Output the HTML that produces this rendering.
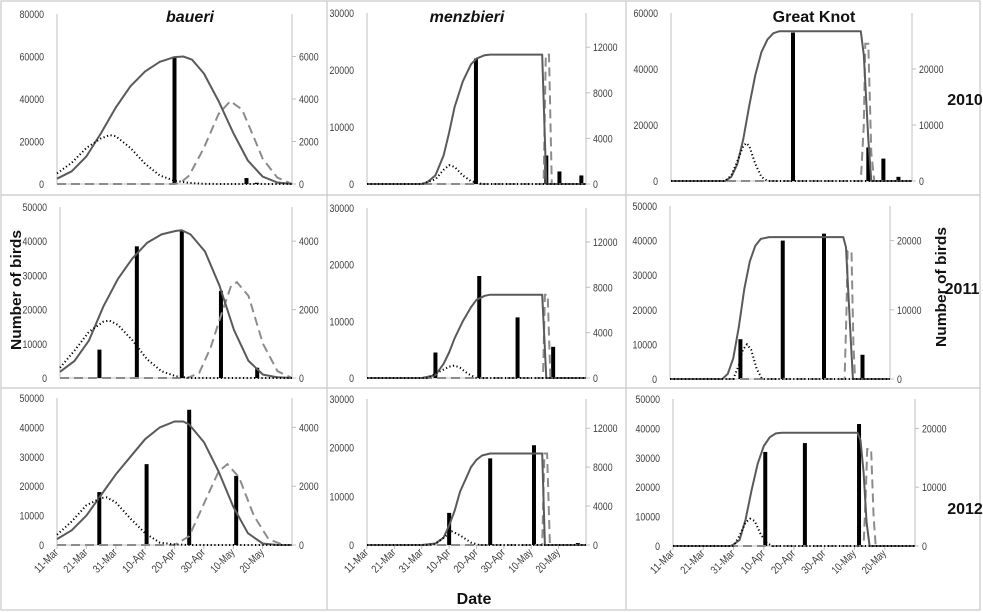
<!DOCTYPE html>
<html><head><meta charset="utf-8">
<style>
html,body{margin:0;padding:0;background:#fff;}
svg{display:block;font-family:"Liberation Sans",sans-serif;}
</style></head>
<body>
<svg id="chart" width="983" height="613" viewBox="0 0 983 613" xmlns="http://www.w3.org/2000/svg">
<g id="frame" stroke="#c8c8c8" stroke-width="1.2" fill="none">
<rect x="1" y="1" width="979" height="609"/>
<line x1="327" y1="1" x2="327" y2="610"/>
<line x1="626" y1="1" x2="626" y2="610"/>
<line x1="1" y1="195" x2="980" y2="195"/>
<line x1="1" y1="388" x2="980" y2="388"/>
</g>
<g id="panels"></g>
<text x="190" y="22" text-anchor="middle" font-size="16" font-weight="bold" font-style="italic" fill="#111">baueri</text>
<text x="467" y="22" text-anchor="middle" font-size="16" font-weight="bold" font-style="italic" fill="#111">menzbieri</text>
<text x="814" y="22" text-anchor="middle" font-size="16" font-weight="bold" fill="#111">Great Knot</text>
<text x="965" y="105" text-anchor="middle" font-size="16" font-weight="bold" fill="#111">2010</text>
<text x="962" y="294" text-anchor="middle" font-size="16" font-weight="bold" fill="#111">2011</text>
<text x="965" y="514" text-anchor="middle" font-size="16" font-weight="bold" fill="#111">2012</text>
<text transform="translate(21,290) rotate(-90)" text-anchor="middle" font-size="15" font-weight="bold" fill="#111" textLength="120" lengthAdjust="spacingAndGlyphs">Number of birds</text>
<text transform="translate(946,287) rotate(-90)" text-anchor="middle" font-size="15" font-weight="bold" fill="#111" textLength="120" lengthAdjust="spacingAndGlyphs">Number of birds</text>
<text x="474" y="604" text-anchor="middle" font-size="16" font-weight="bold" fill="#111">Date</text>
</svg>
<script>
// x categories / tick labels (day 0 = 11-Mar)
const xTickLabels = ["11-Mar","21-Mar","31-Mar","10-Apr","20-Apr","30-Apr","10-May","20-May"];
const xTickDays = [0,10,20,30,40,50,60,70];

// ---- baueri 2010 ----
const baueri2010_solid = [[0,2500],[5,6000],[10,13000],[15,24000],[20,36000],[25,46000],[30,53000],[35,57500],[40,59700],[43,60000],[46,58500],[50,52000],[55,39000],[60,24000],[65,11000],[70,3500],[75,700],[80,0]];
const baueri2010_dotted = [[0,5000],[5,10000],[10,17000],[15,21500],[18,23000],[20,22500],[25,17000],[30,9500],[35,4000],[40,1500],[45,500],[50,100],[55,0],[80,0]];
const baueri2010_dashed = [[0,0],[40,0],[42,500],[45,4000],[50,17000],[55,33000],[59,39000],[63,35000],[67,22000],[70,12000],[75,3000],[80,0]];
const baueri2010_barDays = [40,64.5,68];
const baueri2010_barVals = [60000,2800,600];
// ---- menzbieri 2010 ----
const menz2010_solid = [[0,0],[20,0],[22,300],[25,1500],[28,5000],[30,9000],[32,13500],[35,18000],[38,21000],[40,22000],[43,22600],[45,22700],[64,22700],[65.5,0],[80,0]];
const menz2010_dotted = [[0,0],[20,0],[25,800],[28,2500],[30,3300],[32,3000],[35,1500],[38,500],[42,0],[80,0]];
const menz2010_dashed = [[0,0],[64.5,0],[65.3,22700],[66.5,22700],[67.5,0],[80,0]];
const menz2010_barDays = [39.8,65.5,70.3,78.3];
const menz2010_barVals = [22000,5000,2200,1500];
// ---- great knot 2010 ----
const gk2010_solid = [[0,0],[18,0],[20,1500],[22,6000],[24,15000],[26,27000],[28,38000],[30,46000],[32,50500],[34,52800],[36,53500],[63,53500],[64,45000],[65.5,15000],[66.5,0],[80,0]];
const gk2010_dotted = [[0,0],[18,0],[20,2000],[22,7000],[24,12500],[25,13500],[26,12500],[28,6000],[30,1500],[32,0],[80,0]];
const gk2010_dashed = [[0,0],[63,0],[64,20000],[64.5,49000],[65.5,49000],[66.5,10000],[67.5,0],[80,0]];
const gk2010_barDays = [40.5,65.5,70.5,75.5];
const gk2010_barVals = [53000,12000,8000,1500];
// ---- baueri 2011 ----
const baueri2011_solid = [[0,1800],[5,5000],[10,11000],[15,21000],[20,29000],[25,35000],[30,39500],[35,42000],[40,43000],[42,43200],[45,42000],[50,37000],[55,27000],[60,14000],[65,5000],[70,1000],[75,200],[80,0]];
const baueri2011_dotted = [[0,3000],[5,8000],[10,13500],[15,16500],[17,16800],[20,15500],[25,11000],[30,5500],[35,2000],[40,500],[45,0],[80,0]];
const baueri2011_dashed = [[0,0],[44,0],[48,1500],[52,9000],[55,17000],[59,27000],[61,28000],[65,24000],[70,10000],[75,2000],[80,0]];
const baueri2011_barDays = [13.6,26.5,42,55.5,68];
const baueri2011_barVals = [8300,38500,43000,25500,3000];
// ---- menzbieri 2011 ----
const menz2011_solid = [[0,0],[20,0],[25,500],[28,2500],[30,4500],[32,7000],[35,10000],[38,12500],[40,13800],[43,14500],[45,14700],[64,14700],[65.5,0],[80,0]];
const menz2011_dotted = [[0,0],[22,0],[26,1000],[30,2000],[32,2200],[34,1800],[37,700],[40,0],[80,0]];
const menz2011_dashed = [[0,0],[64.3,0],[65,14700],[66,14700],[67,0],[80,0]];
const menz2011_barDays = [25,41,55,68];
const menz2011_barVals = [4500,18000,10700,5500];
// ---- great knot 2011 ----
const gk2011_solid = [[0,0],[19,0],[21,1500],[23,6000],[25,15000],[27,26000],[29,34000],[31,38500],[33,40500],[36,41000],[63,41000],[64,38000],[65.5,15000],[66.5,0],[80,0]];
const gk2011_dotted = [[0,0],[23,0],[25,4000],[26.5,8500],[28,10000],[29.5,8500],[31.5,3000],[33.5,0],[80,0]];
const gk2011_dashed = [[0,0],[63.5,0],[64.2,20000],[64.6,37000],[66,37000],[66.7,10000],[67.3,0],[80,0]];
const gk2011_barDays = [25.6,41,56,70];
const gk2011_barVals = [11500,40000,42000,7000];
// ---- baueri 2012 ----
const baueri2012_solid = [[0,2000],[5,5000],[10,10000],[15,17000],[20,24000],[25,30000],[30,36000],[35,40000],[40,42000],[43,42000],[45,41000],[50,35000],[55,25000],[60,13000],[65,4000],[70,500],[75,0],[80,0]];
const baueri2012_dotted = [[0,3500],[5,8000],[10,13500],[15,16000],[17,16200],[20,14500],[25,9000],[30,4000],[35,800],[40,200],[45,0],[80,0]];
const baueri2012_dashed = [[0,0],[40,0],[45,3000],[50,14000],[55,25000],[58,27500],[62,23000],[67,10000],[72,2000],[77,0],[80,0]];
const baueri2012_barDays = [14.4,30.5,45,61];
const baueri2012_barVals = [18000,27500,46000,23500];
// ---- menzbieri 2012 ----
const menz2012_solid = [[0,0],[20,0],[25,300],[28,1500],[30,4000],[32,7000],[34,11000],[36,13500],[38,16000],[40,17500],[42,18400],[45,18800],[64,18800],[65,0],[80,0]];
const menz2012_dotted = [[0,0],[22,0],[25,200],[28,1500],[31,2800],[34,2000],[38,500],[41,0],[80,0]];
const menz2012_dashed = [[0,0],[64,0],[64.8,18800],[65.8,18800],[66.8,0],[80,0]];
const menz2012_barDays = [30,45,61,77];
const menz2012_barVals = [6600,17800,20500,400];
// ---- great knot 2012 ----
const gk2012_solid = [[0,0],[19,0],[20,500],[22,2000],[24,9000],[26,19000],[28,28000],[30,34000],[32,37000],[34,38300],[36,38500],[61,38500],[62,36000],[63,25000],[64,8000],[65,0],[80,0]];
const gk2012_dotted = [[0,0],[20,0],[22,3500],[24,8000],[25.5,9300],[27,8500],[29,4000],[31,1000],[33,0],[80,0]];
const gk2012_dashed = [[0,0],[63,0],[63.8,20000],[64.2,33000],[65.5,33000],[66.3,10000],[67,0],[80,0]];
const gk2012_barDays = [30.5,43.6,61.5,77];
const gk2012_barVals = [32000,35000,41500,300];

// left/right tick labels
const leftTicks_c1r1 = [0,20000,40000,60000,80000];
const leftTicks_50k = [0,10000,20000,30000,40000,50000];
const leftTicks_30k = [0,10000,20000,30000];
const leftTicks_60k = [0,20000,40000,60000];
const rightTicks_c1r1 = [0,2000,4000,6000];
const rightTicks_c1 = [0,2000,4000];
const rightTicks_c2 = [0,4000,8000,12000];
const rightTicks_c3 = [0,10000,20000];

const NS = "http://www.w3.org/2000/svg";
const root = document.getElementById('panels');
function mk(tag, attrs, parent){
  const e = document.createElementNS(NS, tag);
  for (const k in attrs) e.setAttribute(k, attrs[k]);
  parent.appendChild(e);
  return e;
}

const panels = [
 {id:"baueri-2010", x0:57,x1:292,yb:184,yt:14,max:80000,rf:0.1,lt:leftTicks_c1r1,rt:rightTicks_c1r1,s:baueri2010_solid,d:baueri2010_dotted,ds:baueri2010_dashed,bd:baueri2010_barDays,bv:baueri2010_barVals,xl:false,bw:4},
 {id:"menzbieri-2010", x0:367,x1:586,yb:184,yt:13,max:30000,rf:0.5,lt:leftTicks_30k,rt:rightTicks_c2,s:menz2010_solid,d:menz2010_dotted,ds:menz2010_dashed,bd:menz2010_barDays,bv:menz2010_barVals,xl:false,bw:4},
 {id:"great-knot-2010", x0:671,x1:912,yb:181,yt:13,max:60000,rf:0.5,lt:leftTicks_60k,rt:rightTicks_c3,s:gk2010_solid,d:gk2010_dotted,ds:gk2010_dashed,bd:gk2010_barDays,bv:gk2010_barVals,xl:false,bw:4},
 {id:"baueri-2011", x0:60,x1:292,yb:378,yt:207,max:50000,rf:0.1,lt:leftTicks_50k,rt:rightTicks_c1,s:baueri2011_solid,d:baueri2011_dotted,ds:baueri2011_dashed,bd:baueri2011_barDays,bv:baueri2011_barVals,xl:false,bw:4},
 {id:"menzbieri-2011", x0:367,x1:586,yb:378,yt:208,max:30000,rf:0.5,lt:leftTicks_30k,rt:rightTicks_c2,s:menz2011_solid,d:menz2011_dotted,ds:menz2011_dashed,bd:menz2011_barDays,bv:menz2011_barVals,xl:false,bw:4},
 {id:"great-knot-2011", x0:670,x1:890,yb:379,yt:206,max:50000,rf:0.5,lt:leftTicks_50k,rt:rightTicks_c3,s:gk2011_solid,d:gk2011_dotted,ds:gk2011_dashed,bd:gk2011_barDays,bv:gk2011_barVals,xl:false,bw:4},
 {id:"baueri-2012", x0:57,x1:292,yb:545,yt:398,max:50000,rf:0.1,lt:leftTicks_50k,rt:rightTicks_c1,s:baueri2012_solid,d:baueri2012_dotted,ds:baueri2012_dashed,bd:baueri2012_barDays,bv:baueri2012_barVals,xl:true,bw:4},
 {id:"menzbieri-2012", x0:367,x1:586,yb:545,yt:399,max:30000,rf:0.5,lt:leftTicks_30k,rt:rightTicks_c2,s:menz2012_solid,d:menz2012_dotted,ds:menz2012_dashed,bd:menz2012_barDays,bv:menz2012_barVals,xl:true,bw:4},
 {id:"great-knot-2012", x0:673,x1:915,yb:546,yt:399,max:50000,rf:0.5,lt:leftTicks_50k,rt:rightTicks_c3,s:gk2012_solid,d:gk2012_dotted,ds:gk2012_dashed,bd:gk2012_barDays,bv:gk2012_barVals,xl:true,bw:4}
];

function lab(g, attrs, txt, name){
  const n = String(txt).length;
  attrs.textLength = (n * 4.9).toFixed(1);
  attrs.lengthAdjust = 'spacingAndGlyphs';
  const t = mk('text', attrs, g);
  
  
  t.textContent = txt;
  return t;
}

panels.forEach(p => {
  const g = mk('g', {}, root);
  
  
  const xs = d => p.x0 + (p.x1 - p.x0) * d / 80;
  const ys = v => p.yb - (p.yb - p.yt) * v / p.max;
  const la = mk('line', {x1:p.x0,y1:p.yt,x2:p.x0,y2:p.yb,stroke:'#bfbfbf','stroke-width':1}, g);
  
  
  const ra = mk('line', {x1:p.x1,y1:p.yt,x2:p.x1,y2:p.yb,stroke:'#bfbfbf','stroke-width':1}, g);
  
  
  const xa = mk('line', {x1:p.x0,y1:p.yb,x2:p.x1,y2:p.yb,stroke:'#bfbfbf','stroke-width':1}, g);
  
  
  p.lt.forEach(v => {
    lab(g, {x:p.x0-13,y:ys(v)+4,'text-anchor':'end','font-size':11,fill:'#404040'}, v, 'left-tick-label');
  });
  p.rt.forEach(v => {
    const yy = ys(v / p.rf);
    mk('line', {x1:p.x1,y1:yy,x2:p.x1+4,y2:yy,stroke:'#bfbfbf','stroke-width':1}, g);
    lab(g, {x:p.x1+7,y:yy+4,'text-anchor':'start','font-size':11,fill:'#404040'}, v, 'right-tick-label');
  });
  if (p.xl) {
    xTickDays.forEach((d, i) => {
      const x = xs(d);
      mk('line', {x1:x,y1:p.yb,x2:x,y2:p.yb+4,stroke:'#bfbfbf','stroke-width':1}, g);
      const t = mk('text', {transform:'translate('+(x+2)+','+(p.yb+8)+') rotate(-45)','text-anchor':'end','font-size':11,fill:'#404040',textLength:29,lengthAdjust:'spacingAndGlyphs'}, g);
      
      
      t.textContent = xTickLabels[i];
    });
  }
  p.bd.forEach((d, i) => {
    const y = ys(p.bv[i]);
    const b = mk('rect', {x:xs(d)-p.bw/2,y:y,width:p.bw,height:p.yb-y,fill:'#000'}, g);
    
    
  });
  const path = arr => arr.map((pt, i) => (i ? 'L' : 'M') + xs(pt[0]).toFixed(1) + ',' + ys(pt[1]).toFixed(1)).join(' ');
  const ds = mk('path', {d:path(p.ds),fill:'none',stroke:'#8c8c8c','stroke-width':2,'stroke-dasharray':'9,5'}, g);
  
  
  const so = mk('path', {d:path(p.s),fill:'none',stroke:'#5a5a5a','stroke-width':2,'stroke-linejoin':'round'}, g);
  
  
  const dt = mk('path', {d:path(p.d),fill:'none',stroke:'#000','stroke-width':2,'stroke-dasharray':'1.2,2.5'}, g);
  
  
});
</script>
</body></html>
